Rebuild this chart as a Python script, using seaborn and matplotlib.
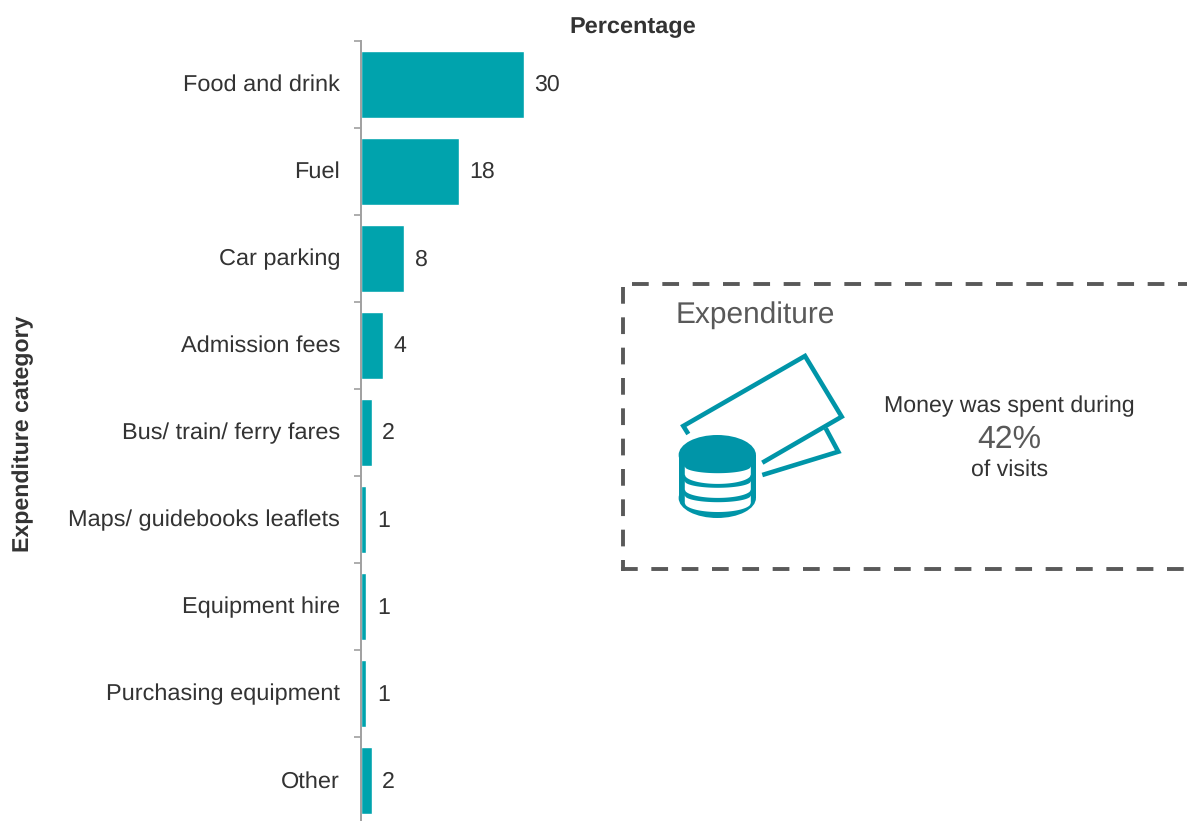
import matplotlib
matplotlib.use('Agg')
import matplotlib.pyplot as plt
from matplotlib.patches import Ellipse, Rectangle
from matplotlib.transforms import ScaledTranslation
import numpy as np
import pandas as pd
import seaborn as sns

categories = ['Food and drink', 'Fuel', 'Car parking', 'Admission fees',
              'Bus/ train/ ferry fares', 'Maps/ guidebooks leaflets',
              'Equipment hire', 'Purchasing equipment', 'Other']
percentages = [30, 18, 8, 4, 2, 1, 1, 1, 2]

W, H = 1187, 821
BAR = '#00A3AD'
ICON = '#0095A8'
GREY = '#595959'
DARK = '#333333'
FS = 16.7

sns.set_style('white')
plt.rcParams['font.family'] = ['Liberation Sans', 'DejaVu Sans']
plt.rcParams['text.hinting'] = 'none'

df = pd.DataFrame({'category': categories, 'percentage': percentages})

fig = plt.figure(figsize=(W / 100, H / 100), dpi=100)
# axis runs from y=41 and carries on slightly past the bottom of the image
top, bottom = 40.6, 824.2
ax = fig.add_axes([361 / W, (H - bottom) / H, (W - 361) / W, (bottom - top) / H])
sns.barplot(data=df, y='category', x='percentage', color=BAR, saturation=1,
            width=0.77, ax=ax)
ax.set_xlim(0, (W - 361) / 5.43)
ax.set_ylim(8.5, -0.5)

for s in ['top', 'right', 'bottom']:
    ax.spines[s].set_visible(False)
ax.spines['left'].set_color('#A0A0A0')
ax.spines['left'].set_linewidth(1.4)
ax.set_xticks([])
ax.set_xlabel('')
ax.set_ylabel('')

ax.tick_params(axis='y', which='major', length=0, pad=15, labelsize=16.9, labelcolor=DARK)
ax.set_yticks([i - 0.5 for i in range(len(categories) + 1)], minor=True)
ax.tick_params(axis='y', which='minor', length=5, width=1.2, color='#A0A0A0', left=True)

# nudge category labels up a touch
up = ScaledTranslation(0, 1.5 / 100, fig.dpi_scale_trans)
for lab in ax.get_yticklabels():
    lab.set_transform(lab.get_transform() + up)

for lab in ax.bar_label(ax.containers[0], padding=8, fontsize=FS, color=DARK):
    lab.xyann = (7.5, -0.8)

# everything else is placed in image pixels
ov = fig.add_axes([0, 0, 1, 1], facecolor='none')
ov.set_xlim(0, W)
ov.set_ylim(H, 0)
ov.axis('off')

ov.text(632.5, 27.5, 'Percentage', ha='center', va='center', fontsize=16.9, fontweight='bold', color=DARK)
ov.text(23, 434, 'Expenditure category', ha='center', va='center', rotation=90,
        fontsize=FS, fontweight='bold', color=DARK)

# dashed box, open past the right edge
dash = dict(color=GREY, lw=2.8, dashes=(4.3, 3.5), dash_capstyle='butt')
ov.plot([632.3, W + 10], [284.5, 284.5], **dash)
ov.plot([622.5, 622.5], [287.5, 571], **dash)
ov.plot([621, W + 10], [569, 569], **dash)
ov.text(676, 315, 'Expenditure', ha='left', va='center', fontsize=21.5, color=GREY)

ov.text(1009, 406.5, 'Money was spent during', ha='center', va='center', fontsize=FS, color=DARK)
ov.text(1009.5, 439.5, '42%', ha='center', va='center', fontsize=23, color=GREY)
ov.text(1009.5, 469.5, 'of visits', ha='center', va='center', fontsize=FS, color=DARK)

# icon: banknotes and stack of coins
ov.plot([688.3, 683.3, 805, 841.7, 762.3], [434, 426, 356, 416.7, 462.7], color=ICON, lw=3.3,
        solid_joinstyle='miter', solid_capstyle='butt')
ov.plot([825.7, 838.3, 762.3], [428.3, 451.7, 475], color=ICON, lw=3.3,
        solid_joinstyle='miter', solid_capstyle='butt')
ov.add_patch(Ellipse((717.3, 455), 77.3, 40, color=ICON, lw=0))
ov.add_patch(Rectangle((678.7, 455), 77.3, 43, color=ICON, lw=0))
ov.add_patch(Ellipse((717.3, 498), 77.3, 40, color=ICON, lw=0))
# white crescents between the coins
xs = np.linspace(684.3, 750.3, 80)
curve = np.sqrt(np.clip(1 - ((xs - 717.3) / 33) ** 2, 0, 1))
for y1, d1, y2, d2 in [(466, 6.7, 474, 9.4), (480.7, 6.6, 489, 8.4), (495, 6.7, 502.5, 9)]:
    ov.fill_between(xs, y1 + d1 * curve, y2 + d2 * curve, color='white', lw=0)

fig.savefig('out.png', dpi=100)
